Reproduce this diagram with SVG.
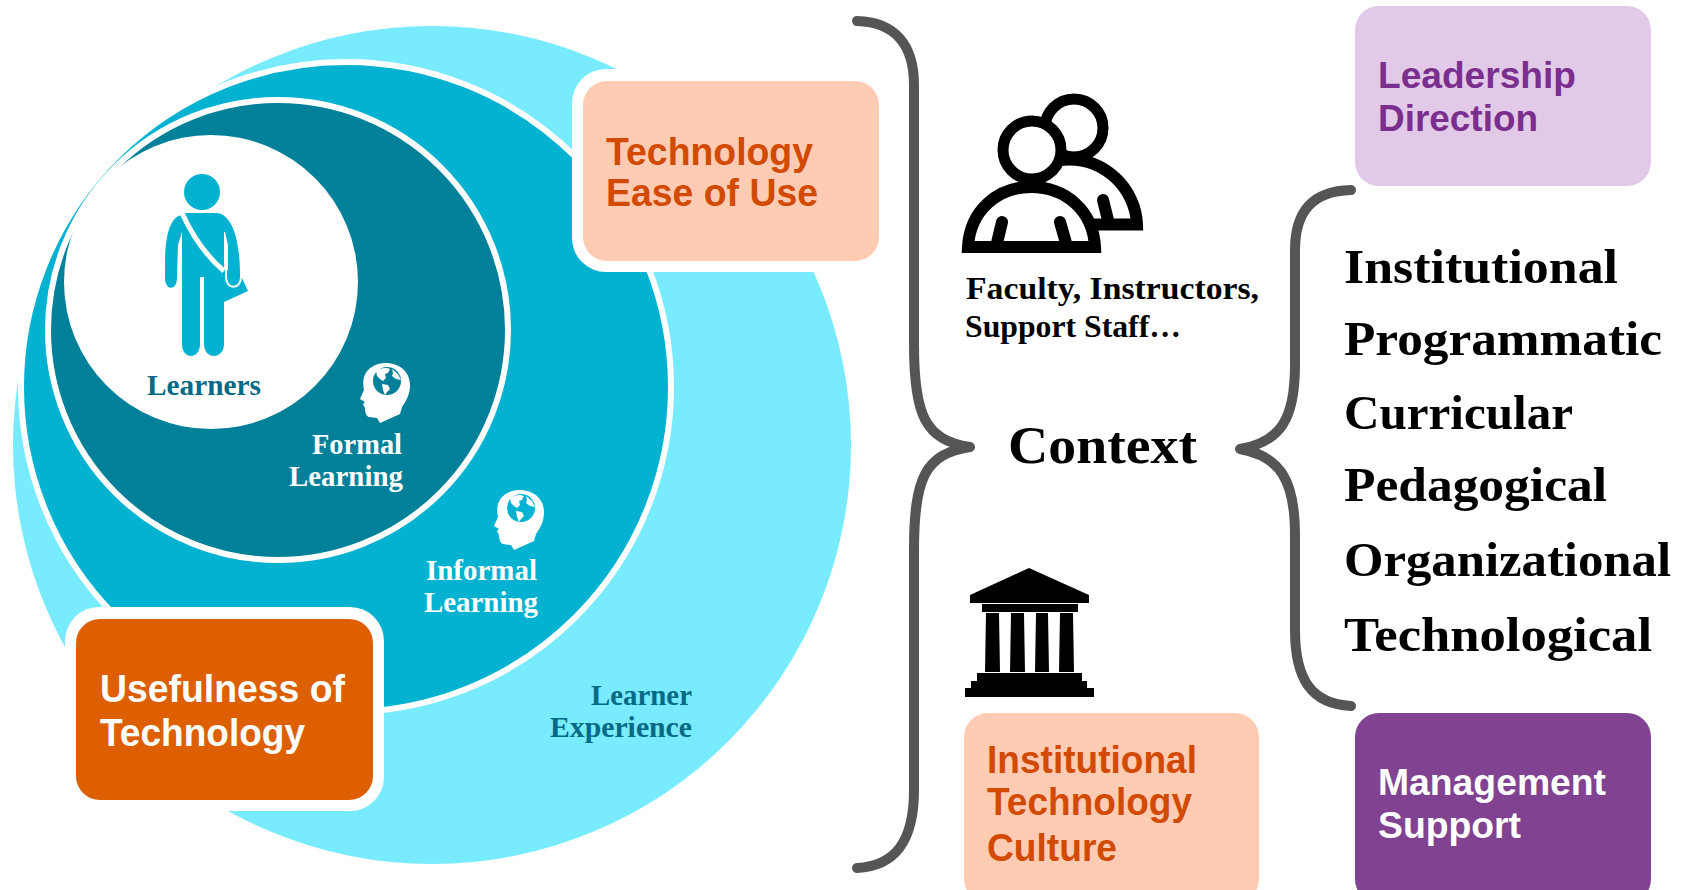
<svg xmlns="http://www.w3.org/2000/svg" width="1685" height="890" viewBox="0 0 1685 890">
<style>
.sf{font-family:"Liberation Serif","DejaVu Serif",serif;font-weight:700}
.ss{font-family:"Liberation Sans",Arial,sans-serif;font-weight:700}
.w{fill:#fff}
.dk{fill:#046A85}
.bk{fill:#000}
.lst{font-size:48px}
.lbl{font-size:29px}
.or{fill:#D24A00;font-size:39px}
.br{fill:none;stroke:#555;stroke-width:10;stroke-linecap:round;stroke-linejoin:round}
.ic{fill:#fff;stroke:#000;stroke-width:12}
.arm{fill:none;stroke:#000;stroke-width:12;stroke-linecap:round}
</style>
<defs>
<g id="head">
<path class="w" d="M0-30C16-30 25-20 25-8C25 2 21 8 17 14L15 21L-5 30L-8 25L-16 24C-19 23-20 19-20 15L-22 11L-20 9L-25 6L-21-3C-22-8-22-12-21-16C-18-25-9-30 0-30Z"/>
<circle cx="2" cy="-12" r="14" fill="currentColor"/>
<path class="w" d="M-9-22C-5-25 1-26 5-24L3-20L0-19L1-15L-2-12L-5-14L-8-17ZM-3-9L3-8L5-4L2-1L0 2L-2-3ZM7-24L13-19L16-13L11-14L7-17L8-20Z"/>
</g>
</defs>
<g id="connectors">
<path class="br" d="M857 21C895 22 914 45 914 85V345C914 415 925 440 970 447C925 454 914 478 914 550V790C914 842 895 866 857 868"/>
<path class="br" d="M1351 190C1312 191 1295 212 1295 250V365C1295 420 1280 442 1240 449C1280 456 1295 480 1295 535V630C1295 680 1312 704 1351 706"/>
</g>
<g id="learner-experience"><circle cx="432" cy="445" r="419" fill="#78EBFF"/><text class="sf dk lbl" x="591" y="705" textLength="101" lengthAdjust="spacingAndGlyphs">Learner</text><text class="sf dk lbl" x="550" y="737" textLength="142" lengthAdjust="spacingAndGlyphs">Experience</text></g>
<g id="informal-learning"><circle cx="346" cy="387" r="325" fill="#02B2D0" stroke="#fff" stroke-width="6"/>
<use href="#head" x="519" y="520" color="#02B2D0"/>
<text class="sf w lbl" x="426" y="580" textLength="111" lengthAdjust="spacingAndGlyphs">Informal</text><text class="sf w lbl" x="424" y="612" textLength="114" lengthAdjust="spacingAndGlyphs">Learning</text></g>
<g id="formal-learning"><circle cx="278" cy="330" r="230" fill="#018099" stroke="#fff" stroke-width="6"/>
<use href="#head" x="385" y="393" color="#018099"/>
<text class="sf w lbl" x="312" y="454" textLength="90" lengthAdjust="spacingAndGlyphs">Formal</text><text class="sf w lbl" x="289" y="486" textLength="114" lengthAdjust="spacingAndGlyphs">Learning</text></g>
<g id="learners"><circle cx="211" cy="282" r="147" fill="#fff"/>
<g fill="#02B2D0">
<circle cx="202" cy="192" r="18"/>
<path d="M224 302L248 291L242 278L224 268Z"/>
<path d="M186 213H216C232 213 240 240 240 275V278C240 290 228 290 228 278V245L225 232L224 232V344C224 360 204 360 204 344V277H200V344C200 360 182 360 182 344V232L178 245L177 278C177 291 165 291 165 278V265C165 235 170 218 181 215Z"/>
</g>
<path d="M182 213C192 235 205 255 224 271" fill="none" stroke="#fff" stroke-width="5"/>
<path d="M226 255V277C226 290 241 290 241 277" fill="none" stroke="#fff" stroke-width="2"/>
<text class="sf dk lbl" x="147" y="395" textLength="114" lengthAdjust="spacingAndGlyphs">Learners</text></g>
<g id="technology-ease-of-use"><rect x="572" y="69" width="319" height="203" rx="34" fill="#fff"/><rect x="583" y="81" width="296" height="180" rx="24" fill="#FFCCB3"/>
<text class="ss or" x="606" y="165" textLength="207" lengthAdjust="spacingAndGlyphs">Technology</text><text class="ss or" x="606" y="206" textLength="212" lengthAdjust="spacingAndGlyphs">Ease of Use</text></g>
<g id="usefulness"><rect x="65" y="607" width="319" height="204" rx="34" fill="#fff"/><rect x="76" y="619" width="297" height="181" rx="24" fill="#DD5F00"/>
<text class="ss w" font-size="39" x="100" y="702" textLength="245" lengthAdjust="spacingAndGlyphs">Usefulness of</text><text class="ss w" font-size="39" x="100" y="746" textLength="205" lengthAdjust="spacingAndGlyphs">Technology</text></g>
<g id="faculty">
<circle cx="1074" cy="128" r="29" fill="#fff" stroke="#000" stroke-width="11"/>
<path class="ic" d="M1060 160C1105 155 1136 190 1137 224.500H1085"/>
<path class="arm" d="M1103 200L1108 220"/>
<path class="ic" d="M968 247C970 210 998 187 1031 187C1065 187 1093 210 1095 247Z"/>
<path class="arm" d="M1002 222L997 243M1060 222L1066 243"/>
<circle cx="1032" cy="150" r="29" fill="#fff" stroke="#000" stroke-width="11"/>
<text class="sf bk" font-size="31" x="966" y="299" textLength="293" lengthAdjust="spacingAndGlyphs">Faculty, Instructors,</text><text class="sf bk" font-size="31" x="965" y="337" textLength="216" lengthAdjust="spacingAndGlyphs">Support Staff…</text></g>
<g id="context"><text class="sf bk" font-size="52" x="1008" y="463" textLength="189" lengthAdjust="spacingAndGlyphs">Context</text></g>
<g id="levels" class="sf bk">
<text class="lst" x="1344" y="283" textLength="274" lengthAdjust="spacingAndGlyphs">Institutional</text>
<text class="lst" x="1344" y="355" textLength="318" lengthAdjust="spacingAndGlyphs">Programmatic</text>
<text class="lst" x="1344" y="429" textLength="229" lengthAdjust="spacingAndGlyphs">Curricular</text>
<text class="lst" x="1344" y="501" textLength="263" lengthAdjust="spacingAndGlyphs">Pedagogical</text>
<text class="lst" x="1344" y="576" textLength="327" lengthAdjust="spacingAndGlyphs">Organizational</text>
<text class="lst" x="1344" y="651" textLength="308" lengthAdjust="spacingAndGlyphs">Technological</text></g>
<g id="institution"><path class="bk" d="M1029 568L1089 595V603H970V595ZM982 604H1078V612H982ZM986 613H999L1000 672H985ZM1011 613H1024L1025 672H1010ZM1036 613H1048L1049 672H1035ZM1060 613H1073L1074 672H1059ZM977 673H1082V681H1087V688H1094V697H965V688H971V681H977Z"/></g>
<g id="institutional-culture"><rect x="964" y="713" width="295" height="190" rx="24" fill="#FFCCB3"/>
<text class="ss or" x="987" y="773" textLength="210" lengthAdjust="spacingAndGlyphs">Institutional</text><text class="ss or" x="987" y="815" textLength="205" lengthAdjust="spacingAndGlyphs">Technology</text><text class="ss or" x="987" y="861" textLength="130" lengthAdjust="spacingAndGlyphs">Culture</text></g>
<g id="leadership"><rect x="1355" y="6" width="296" height="180" rx="24" fill="#E2C9E8"/>
<text class="ss" fill="#7A2E8E" font-size="37" x="1378" y="88" textLength="198" lengthAdjust="spacingAndGlyphs">Leadership</text><text class="ss" fill="#7A2E8E" font-size="37" x="1378" y="131" textLength="160" lengthAdjust="spacingAndGlyphs">Direction</text></g>
<g id="management"><rect x="1355" y="713" width="296" height="190" rx="24" fill="#824292"/>
<text class="ss w" font-size="37" x="1378" y="795" textLength="228" lengthAdjust="spacingAndGlyphs">Management</text><text class="ss w" font-size="37" x="1378" y="838" textLength="143" lengthAdjust="spacingAndGlyphs">Support</text></g>
</svg>
